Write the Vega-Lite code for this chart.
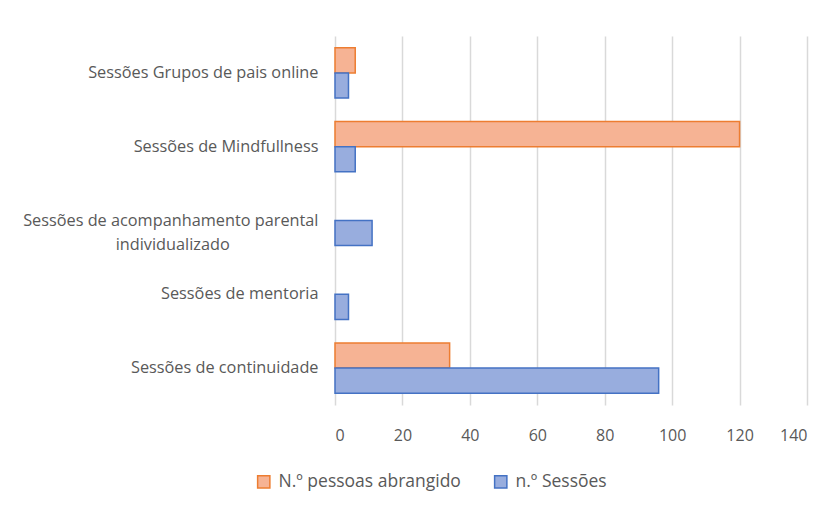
{
  "$schema": "https://vega.github.io/schema/vega-lite/v6.json",
  "autosize": "none",
  "width": 472,
  "height": 369,
  "padding": {"left": 335, "top": 36, "right": 28, "bottom": 103},
  "background": "white",
  "data": {
    "values": [
      {"categoria": "Sessões Grupos de pais online", "serie": "N.º pessoas abrangido", "valor": 6},
      {"categoria": "Sessões Grupos de pais online", "serie": "n.º Sessões", "valor": 4},
      {"categoria": "Sessões de Mindfullness", "serie": "N.º pessoas abrangido", "valor": 120},
      {"categoria": "Sessões de Mindfullness", "serie": "n.º Sessões", "valor": 6},
      {"categoria": "Sessões de acompanhamento parental individualizado", "serie": "N.º pessoas abrangido", "valor": 0},
      {"categoria": "Sessões de acompanhamento parental individualizado", "serie": "n.º Sessões", "valor": 11},
      {"categoria": "Sessões de mentoria", "serie": "N.º pessoas abrangido", "valor": 0},
      {"categoria": "Sessões de mentoria", "serie": "n.º Sessões", "valor": 4},
      {"categoria": "Sessões de continuidade", "serie": "N.º pessoas abrangido", "valor": 34},
      {"categoria": "Sessões de continuidade", "serie": "n.º Sessões", "valor": 96}
    ]
  },
  "transform": [{"filter": "datum.valor > 0"}],
  "mark": {"type": "bar", "strokeWidth": 1.5},
  "encoding": {
    "y": {
      "field": "categoria",
      "type": "nominal",
      "sort": ["Sessões Grupos de pais online", "Sessões de Mindfullness", "Sessões de acompanhamento parental individualizado", "Sessões de mentoria", "Sessões de continuidade"],
      "scale": {"paddingInner": 0.32, "paddingOuter": 0.16},
      "axis": {
        "title": null,
        "domain": false,
        "ticks": false,
        "labelFont": "Open Sans",
        "labelFontSize": 16.3,
        "labelColor": "#595959",
        "labelPadding": 17,
        "labelLimit": 400,
        "labelLineHeight": 24,
        "labelExpr": "datum.label == 'Sessões de acompanhamento parental individualizado' ? ['Sessões de acompanhamento parental', 'individualizado\u00a0\u00a0\u00a0\u00a0\u00a0\u00a0\u00a0\u00a0\u00a0\u00a0\u00a0\u00a0\u00a0\u00a0\u00a0\u00a0\u00a0\u00a0\u00a0\u00a0\u00a0\u200b'] : datum.label"
      }
    },
    "yOffset": {
      "field": "serie",
      "type": "nominal",
      "sort": ["N.º pessoas abrangido", "n.º Sessões"],
      "scale": {"domain": ["N.º pessoas abrangido", "n.º Sessões"], "paddingInner": 0, "paddingOuter": 0}
    },
    "x": {
      "field": "valor",
      "type": "quantitative",
      "scale": {"domain": [0, 140]},
      "axis": {
        "title": null,
        "values": [0, 20, 40, 60, 80, 100, 120, 140],
        "domain": false,
        "ticks": false,
        "grid": true,
        "gridColor": "#D9D9D9",
        "gridWidth": 1.5,
        "labelFont": "Open Sans",
        "labelFontSize": 16,
        "labelColor": "#595959",
        "labelPadding": 22
      }
    },
    "fill": {
      "field": "serie",
      "type": "nominal",
      "scale": {"domain": ["N.º pessoas abrangido", "n.º Sessões"], "range": ["#F6B394", "#98ADDE"]},
      "legend": {
        "title": null,
        "orient": "none",
        "direction": "horizontal",
        "legendX": -80,
        "legendY": 437,
        "symbolType": "square",
        "symbolSize": 150,
        "symbolStrokeWidth": 1.5,
        "labelFont": "Open Sans",
        "labelFontSize": 17.5,
        "labelColor": "#595959",
        "labelLimit": 400,
        "columnPadding": 30,
        "labelOffset": 6
      }
    },
    "stroke": {
      "field": "serie",
      "type": "nominal",
      "scale": {"domain": ["N.º pessoas abrangido", "n.º Sessões"], "range": ["#ED7D31", "#4472C4"]},
      "legend": null
    }
  },
  "config": {"view": {"stroke": null}}
}
